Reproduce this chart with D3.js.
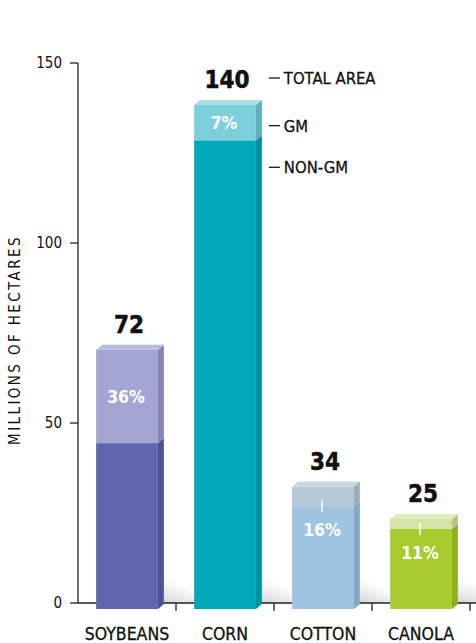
<!DOCTYPE html>
<html>
<head>
<meta charset="utf-8">
<script src="https://cdn.jsdelivr.net/npm/d3@7"></script>
<style>
  body { margin: 0; background: #fff; }
  text { font-family: "DejaVu Sans Condensed", "DejaVu Sans", sans-serif; }
</style>
</head>
<body>
<div id="chart"></div>
<script>
// data
var crops = ["SOYBEANS", "CORN", "COTTON", "CANOLA"];
var totalArea = [72, 140, 34, 25];
var gmShare = [36, 7, 16, 11];
var yTicks = [0, 50, 100, 150];
var legendLabels = ["TOTAL AREA", "GM", "NON-GM"];

// colours per crop: front (non-gm), front (gm), side, top
var colors = [
  {base: "#5f66ad", light: "#a4a5d3", side: "#4c5294", sideLight: "#8586b3", top: "#babbe0"},
  {base: "#00a8b8", light: "#7ccfdb", side: "#00909e", sideLight: "#5fb0bb", top: "#a9dfe6"},
  {base: "#9ec4e1", light: "#b6c9d9", side: "#84a7c2", sideLight: "#9cafbf", top: "#cbd8e3"},
  {base: "#a8cb2f", light: "#d4e3a6", side: "#8ead22", sideLight: "#b6c68a", top: "#e2ecc0"}
];

var W = 476, H = 643;
var svg = d3.select("#chart").append("svg")
  .attr("width", W)
  .attr("height", H);

var x = d3.scaleBand()
  .domain(crops)
  .range([78, 470])
  .paddingInner(0.37)
  .paddingOuter(0.185);

var y = d3.scaleLinear()
  .domain([0, 150])
  .range([603, 63]);

var dx = 6, dy = 5, drop = 6;

// shadow gradient
var defs = svg.append("defs");
var grad = defs.append("linearGradient")
  .attr("id", "shadowGrad")
  .attr("x1", 0).attr("y1", 1)
  .attr("x2", 0.45).attr("y2", 0);
grad.append("stop").attr("offset", 0).attr("stop-color", "#8a8a8a").attr("stop-opacity", 0.6);
grad.append("stop").attr("offset", 1).attr("stop-color", "#ffffff").attr("stop-opacity", 0);

// floor shadows
crops.forEach(function(c) {
  var x1 = x(c) + x.bandwidth();
  svg.append("polygon")
    .attr("points", [
      [x1, y(0) + drop], [x1 + dx, y(0) + drop - dy], [x1 + dx, y(0) - 28],
      [x1 + 50, y(0)], [x1, y(0)]
    ].map(function(p) { return p.join(","); }).join(" "))
    .attr("fill", "url(#shadowGrad)");
});

// y axis
var yAxis = svg.append("g").attr("transform", "translate(78,0)");
yAxis.append("line")
  .attr("y1", y(150)).attr("y2", y(0))
  .attr("stroke", "#222").attr("stroke-width", 1.3);
yAxis.selectAll(".tick").data(yTicks).enter().append("line")
  .attr("x1", -8).attr("x2", 0)
  .attr("y1", function(d) { return y(d); })
  .attr("y2", function(d) { return y(d); })
  .attr("stroke", "#222").attr("stroke-width", 1.3);
yAxis.selectAll(".tl").data(yTicks).enter().append("text")
  .attr("x", -16)
  .attr("y", function(d) { return y(d); })
  .attr("dy", "0.35em")
  .attr("text-anchor", "end")
  .attr("font-size", 15)
  .attr("fill", "#111")
  .text(function(d) { return d; });

// x axis
svg.append("line")
  .attr("x1", 78).attr("x2", W)
  .attr("y1", y(0)).attr("y2", y(0))
  .attr("stroke", "#222").attr("stroke-width", 1.3);
crops.forEach(function(c, i) {
  if (i === 0) return;
  var xb = x(c) - x.step() * x.paddingInner() / 2;
  svg.append("line")
    .attr("x1", xb).attr("x2", xb)
    .attr("y1", y(0)).attr("y2", y(0) + 8)
    .attr("stroke", "#222").attr("stroke-width", 1.3);
});
svg.append("line")
  .attr("x1", 470).attr("x2", 470)
  .attr("y1", y(0)).attr("y2", y(0) + 8)
  .attr("stroke", "#222").attr("stroke-width", 1.3);

svg.selectAll(".xl").data(crops).enter().append("text")
  .attr("x", function(d) { return x(d) + x.bandwidth() / 2; })
  .attr("y", 640)
  .attr("text-anchor", "middle")
  .attr("font-size", 17.5)
  .attr("fill", "#111")
  .attr("stroke", "#111").attr("stroke-width", 0.3)
  .text(function(d) { return d; });

// y title
svg.append("text")
  .attr("transform", "translate(20,340) rotate(-90)")
  .attr("text-anchor", "middle")
  .attr("font-size", 15)
  .attr("letter-spacing", 2.4)
  .attr("fill", "#111")
  .text("MILLIONS OF HECTARES");

// bars
function poly(g, pts, fill) {
  g.append("polygon")
    .attr("points", pts.map(function(p) { return p.join(","); }).join(" "))
    .attr("fill", fill);
}

crops.forEach(function(c, i) {
  var g = svg.append("g");
  var col = colors[i];
  var x0 = x(c), w = x.bandwidth(), x1 = x0 + w;
  var total = totalArea[i];
  var gm = total * gmShare[i] / 100;
  var yb = y(0) + drop;
  var yt = y(total) + drop;
  var ym = y(total - gm) + drop;

  // front faces
  g.append("rect").attr("x", x0).attr("y", ym).attr("width", w).attr("height", yb - ym).attr("fill", col.base);
  g.append("rect").attr("x", x0).attr("y", yt).attr("width", w).attr("height", ym - yt).attr("fill", col.light);
  // side faces
  poly(g, [[x1, ym], [x1 + dx, ym - dy], [x1 + dx, yb - dy], [x1, yb]], col.side);
  poly(g, [[x1, yt], [x1 + dx, yt - dy], [x1 + dx, ym - dy], [x1, ym]], col.sideLight);
  // top face
  poly(g, [[x0, yt], [x0 + dx, yt - dy], [x1 + dx, yt - dy], [x1, yt]], col.top);

  // total label
  g.append("text")
    .attr("x", x0 + w / 2 + 2)
    .attr("y", yt - 17)
    .attr("text-anchor", "middle")
    .attr("font-size", 24)
    .attr("font-weight", "bold")
    .attr("fill", "#111")
    .attr("stroke", "#111").attr("stroke-width", 0.5)
    .text(total);

  // percent label
  var inside = (ym - yt) > 30;
  var py = inside ? (yt + ym) / 2 : ym + 24;
  g.append("text")
    .attr("x", x0 + w / 2 - 1)
    .attr("y", py)
    .attr("dy", "0.36em")
    .attr("text-anchor", "middle")
    .attr("font-size", 17.5)
    .attr("font-weight", "bold")
    .attr("fill", "#fff")
    .text(gmShare[i] + "%");
  if (!inside) {
    g.append("line")
      .attr("x1", x0 + w / 2 - 1).attr("x2", x0 + w / 2 - 1)
      .attr("y1", ym - 6).attr("y2", ym + 6)
      .attr("stroke", "#fff").attr("stroke-width", 1.5);
  }
});

// legend next to corn bar
var corn = 1;
var cx1 = x(crops[corn]) + x.bandwidth() + 13;
var cTot = totalArea[corn];
var cGm = cTot * gmShare[corn] / 100;
var legendY = [
  y(cTot) + drop - 27,
  (y(cTot) + y(cTot - cGm)) / 2 + drop + 3,
  y(cTot - cGm) + drop + 27
];
legendLabels.forEach(function(l, k) {
  svg.append("line")
    .attr("x1", cx1).attr("x2", cx1 + 11)
    .attr("y1", legendY[k]).attr("y2", legendY[k])
    .attr("stroke", "#111").attr("stroke-width", 1.3);
  svg.append("text")
    .attr("x", cx1 + 15)
    .attr("y", legendY[k])
    .attr("dy", "0.36em")
    .attr("font-size", 16.5)
    .attr("fill", "#111")
    .attr("stroke", "#111").attr("stroke-width", 0.3)
    .text(l);
});
</script>
</body>
</html>
